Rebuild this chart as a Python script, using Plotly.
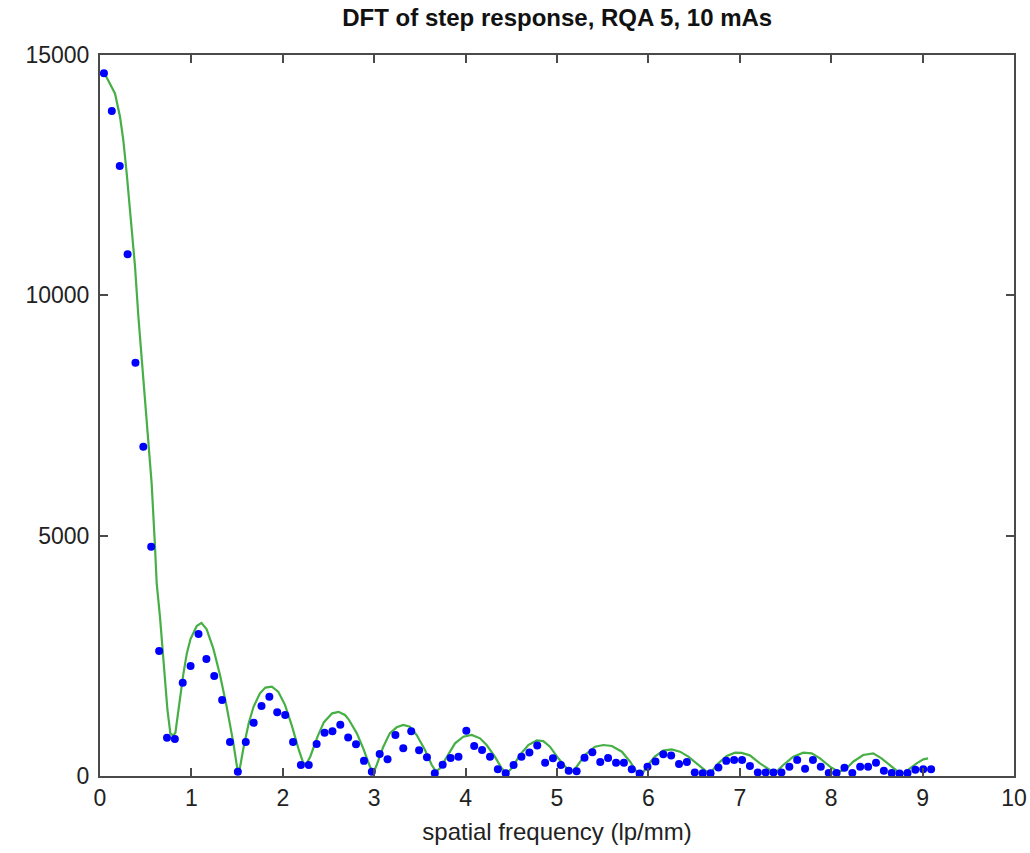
import plotly.graph_objects as go

# Measured DFT magnitude (blue dots)
freq_dots = [0.043, 0.129, 0.216, 0.302, 0.388, 0.474, 0.560, 0.647, 0.733, 0.819,
             0.905, 0.991, 1.078, 1.164, 1.250, 1.336, 1.422, 1.508, 1.595, 1.681,
             1.767, 1.853, 1.939, 2.026, 2.112, 2.198, 2.284, 2.370, 2.457, 2.543,
             2.629, 2.715, 2.801, 2.888, 2.974, 3.060, 3.146, 3.232, 3.318, 3.405,
             3.491, 3.577, 3.663, 3.749, 3.836, 3.922, 4.008, 4.094, 4.180, 4.267,
             4.353, 4.439, 4.525, 4.611, 4.698, 4.784, 4.870, 4.956, 5.042, 5.128,
             5.215, 5.301, 5.387, 5.473, 5.559, 5.646, 5.732, 5.818, 5.904, 5.990,
             6.077, 6.163, 6.249, 6.335, 6.421, 6.507, 6.594, 6.680, 6.766, 6.852,
             6.938, 7.025, 7.111, 7.197, 7.283, 7.369, 7.456, 7.542, 7.628, 7.714,
             7.800, 7.886, 7.973, 8.059, 8.145, 8.231, 8.317, 8.404, 8.490, 8.576,
             8.662, 8.748, 8.835, 8.921, 9.007, 9.093]
mag_dots = [14618, 13834, 12690, 10853, 8598, 6850, 4770, 2600, 797, 770,
            1941, 2288, 2954, 2434, 2080, 1581, 707, 90, 707, 1109,
            1456, 1650, 1325, 1269, 707, 229, 229, 666, 900, 930,
            1065, 800, 662, 315, 90, 460, 350, 853, 576, 930,
            535, 390, 56, 235, 375, 402, 940, 624, 541, 402,
            142, 56, 229, 402, 490, 635, 277, 368, 230, 110,
            100, 380, 495, 290, 375, 277, 277, 140, 50, 194,
            300, 455, 425, 250, 290, 75, 55, 55, 175, 315,
            333, 333, 210, 75, 75, 75, 75, 194, 333, 150,
            333, 194, 65, 65, 170, 65, 194, 194, 277, 110,
            60, 50, 60, 130, 139, 142]

# Model curve (green line)
freq_fit = [0.04, 0.164, 0.219, 0.255, 0.292, 0.347, 0.383, 0.42, 0.456, 0.49,
            0.528, 0.565, 0.60, 0.62, 0.656, 0.693, 0.738, 0.77, 0.80, 0.825,
            0.86, 0.91, 0.95, 0.99, 1.058, 1.11, 1.167, 1.24, 1.313, 1.386,
            1.458, 1.50, 1.525, 1.575, 1.63, 1.68, 1.75, 1.81, 1.88, 1.95,
            2.024, 2.097, 2.17, 2.22, 2.255, 2.30, 2.38, 2.45, 2.54, 2.61,
            2.68, 2.72, 2.81, 2.88, 2.954, 2.99, 3.027, 3.10, 3.17, 3.246,
            3.318, 3.39, 3.465, 3.556, 3.63, 3.676, 3.72, 3.793, 3.884, 3.975,
            4.067, 4.158, 4.23, 4.32, 4.395, 4.45, 4.504, 4.595, 4.686, 4.778,
            4.85, 4.923, 5.014, 5.106, 5.16, 5.215, 5.306, 5.416, 5.507, 5.6,
            5.71, 5.80, 5.87, 5.93, 5.98, 6.07, 6.163, 6.255, 6.346, 6.437,
            6.546, 6.638, 6.69, 6.765, 6.857, 6.948, 7.02, 7.11, 7.22, 7.33,
            7.40, 7.476, 7.585, 7.695, 7.787, 7.877, 7.987, 8.078, 8.15, 8.24,
            8.35, 8.46, 8.55, 8.64, 8.73, 8.79, 8.86, 8.935, 9.008, 9.06]
mag_fit = [14650, 14200, 13715, 13230, 12540, 11300, 10600, 9555, 8654, 7822,
           7058, 6089, 4841, 4015, 3314, 2350, 1373, 888, 840, 900,
           1400, 2100, 2550, 2850, 3120, 3185, 3050, 2650, 2100, 1442,
           700, 180, 110, 640, 1120, 1440, 1720, 1840, 1858, 1754,
           1480, 1060, 575, 290, 240, 402, 818, 1120, 1304, 1335,
           1269, 1180, 888, 576, 194, 56, 229, 610, 888, 1013,
           1061, 1026, 853, 541, 229, 90, 160, 402, 680, 818,
           853, 784, 645, 402, 160, 56, 160, 437, 645, 740,
           725, 610, 368, 160, 90, 194, 437, 610, 645, 624,
           506, 297, 90, 30, 194, 402, 527, 555, 506, 402,
           229, 90, 90, 264, 416, 485, 480, 430, 264, 125,
           90, 229, 402, 485, 472, 368, 194, 90, 125, 297,
           437, 472, 368, 229, 90, 56, 160, 264, 347, 368]

x_ticks = [0, 1, 2, 3, 4, 5, 6, 7, 8, 9, 10]
y_ticks = [0, 5000, 10000, 15000]

fig = go.Figure()
fig.add_trace(go.Scatter(x=freq_fit, y=mag_fit, mode="lines",
                         line=dict(color="rgb(70,175,70)", width=2.2),
                         showlegend=False, hoverinfo="skip"))
fig.add_trace(go.Scatter(x=freq_dots, y=mag_dots, mode="markers",
                         marker=dict(color="#0000ff", size=8, line=dict(width=0)),
                         showlegend=False))

axis_common = dict(showgrid=False, zeroline=False, showline=True, linecolor="#4a4a4a",
                   linewidth=2, mirror="allticks", ticks="inside", ticklen=8,
                   tickwidth=2, tickcolor="#4a4a4a", automargin=False,
                   tickfont=dict(family="Liberation Sans, Arial, sans-serif", size=23,
                                 color="#222222"))

fig.update_layout(
    width=1030, height=853,
    margin=dict(l=100, r=16, t=55, b=77),
    paper_bgcolor="white", plot_bgcolor="white",
    title=dict(text="<b>DFT of step response, RQA 5, 10 mAs</b>",
               x=0.541, xanchor="center", y=1 - 18 / 853, yanchor="middle",
               yref="container",
               font=dict(family="Liberation Sans, Arial, sans-serif", size=24,
                         color="#111111")),
    xaxis=dict(range=[0, 10], tickvals=x_ticks, ticktext=[str(v) for v in x_ticks],
               title=dict(text="spatial frequency (lp/mm)", standoff=14,
                          font=dict(family="Liberation Sans, Arial, sans-serif",
                                    size=24, color="#222222")),
               **axis_common),
    yaxis=dict(range=[0, 15000], tickvals=y_ticks, ticktext=[str(v) for v in y_ticks],
               ticklabelstandoff=4, **axis_common),
)

fig.write_html("out.html")
